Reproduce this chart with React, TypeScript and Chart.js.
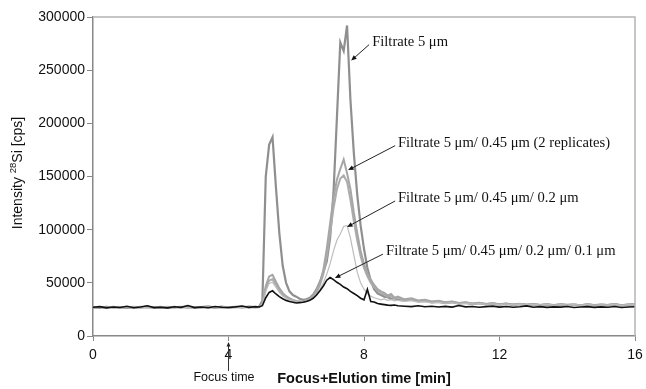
import React, { useEffect, useRef } from "react";
import { Chart, registerables } from "chart.js";

Chart.register(...registerables);

const times = [
  0, 0.2, 0.4, 0.6, 0.8, 1, 1.2, 1.4, 1.6, 1.8, 2, 2.2, 2.4, 2.6, 2.8, 3, 3.2, 3.4, 3.6, 3.8, 4, 4.2, 4.4, 4.6, 4.8,
  4.9, 5, 5.1, 5.2, 5.3, 5.4, 5.5, 5.6, 5.7, 5.8, 5.9, 6, 6.1, 6.2, 6.3, 6.4, 6.5, 6.6, 6.7, 6.8, 6.9, 7, 7.1, 7.2,
  7.3, 7.4, 7.5, 7.6, 7.7, 7.8, 7.9, 8, 8.1, 8.2, 8.3, 8.4, 8.5, 8.6, 8.7, 8.8, 8.9, 9,
  9.2, 9.4, 9.6, 9.8, 10, 10.2, 10.4, 10.6, 10.8, 11, 11.2, 11.4, 11.6, 11.8, 12, 12.2, 12.4, 12.6, 12.8, 13, 13.2,
  13.4, 13.6, 13.8, 14, 14.2, 14.4, 14.6, 14.8, 15, 15.2, 15.4, 15.6, 15.8, 16,
];

const filtrate5 = [
  27000, 26500, 27500, 26800, 27200, 26400, 27100, 26900, 27600, 26700, 27000, 26500, 27300, 26800, 27400, 26600, 27100, 27800, 26700, 27200, 26900, 27500, 26800, 27600, 27100,
  27500, 33000, 150000, 180000, 187000, 140000, 97000, 66000, 50000, 42000, 38500, 37000, 35000, 34000, 34500, 36000, 39000, 44000, 51000, 60000, 70000, 92000, 135000, 205000,
  276000, 268000, 292000, 222000, 172000, 133000, 104000, 82000, 64000, 52000, 44000, 40000, 38500, 37000, 36500, 35000, 35500, 34000,
  33500, 34500, 32500, 33000, 31500, 32000, 31000, 31800, 30500, 31200, 30000, 30800, 29800, 30500, 29500, 30200, 29300, 30000, 29200, 29800, 29000,
  29600, 28900, 29500, 29000, 29400, 28800, 29600, 28900, 29300, 29000, 29700, 28800, 29400, 29800,
];

const filtrate045a = [
  26800, 27300, 26600, 27500, 26900, 27200, 26500, 27400, 26800, 27100, 27600, 26700, 27000, 27500, 26600, 27300, 26900, 27200, 26700, 27700, 26800, 27100, 27400, 26900, 27300,
  27200, 31000, 47000, 56000, 57500, 51000, 45000, 40500, 37500, 35500, 34000, 33000, 32500, 32800, 33500, 35000, 38000, 43000, 50000, 62000, 82000, 106000, 130000, 147000,
  157000, 166000, 153000, 138000, 116000, 97000, 80000, 68000, 59000, 53000, 48000, 44000, 42000, 40500, 38000, 39500, 36000, 37000,
  34500, 35500, 33500, 34000, 32500, 33200, 31800, 32500, 31000, 31800, 30500, 31300, 30200, 30900, 29800, 30600, 29600, 30300, 29400, 30100, 29200,
  29900, 29100, 29800, 29300, 29700, 29000, 29900, 29100, 29600, 29200, 30000, 29000, 29700, 30200,
];

const filtrate045b = [
  27100, 26600, 27400, 26900, 27200, 26700, 27500, 26800, 27000, 27300, 26600, 27400, 26900, 27200, 27600, 26800, 27300, 26700, 27100, 27400, 26600, 27200, 26900, 27500, 26800,
  27000, 30000, 44000, 52000, 53500, 48000, 42500, 38500, 36000, 34500, 33500, 32500, 32000, 32300, 33000, 34500, 37000, 41000, 48000, 58000, 75000, 97000, 120000, 138000,
  148000, 151000, 145000, 128000, 108000, 90000, 75000, 64000, 56000, 50000, 46000, 42500, 40000, 39000, 37000, 37800, 35000, 35800,
  33800, 34800, 33000, 33400, 32000, 32700, 31400, 32100, 30800, 31500, 30300, 31000, 30000, 30700, 29600, 30400, 29500, 30100, 29300, 29900, 29100,
  29800, 29000, 29700, 29200, 29600, 28900, 29800, 29000, 29500, 29100, 29900, 28900, 29600, 30000,
];

const filtrate02 = [
  26900, 27400, 26700, 27100, 27500, 26800, 27200, 26600, 27300, 27000, 26800, 27500, 26700, 27200, 26900, 27400, 26600, 27300, 27000, 26800, 27500, 26900, 27200, 26700, 27400,
  27100, 29500, 42000, 49500, 50500, 46000, 41000, 37500, 35500, 34000, 33000, 32000, 31800, 32000, 32800, 34000, 36000, 39000, 44000, 50000, 58000, 68000, 80000, 90000,
  96000, 103000, 104000, 92000, 76000, 60000, 50000, 44000, 40000, 37500, 36000, 35000, 34000, 34800, 33500, 34200, 33000, 33600,
  32500, 33200, 31800, 32400, 31200, 31800, 30600, 31300, 30200, 30900, 29900, 30500, 29700, 30300, 29500, 30100, 29300, 29900, 29200, 29800, 29000,
  29700, 28900, 29600, 29100, 29500, 28800, 29700, 28900, 29400, 29000, 29800, 28800, 29500, 29900,
];

const filtrate01 = [
  27000, 27600, 26500, 27300, 26800, 27900, 26600, 27200, 28400, 26700, 27100, 26500, 27500, 26900, 28600, 26700, 27200, 26600, 27800, 27000, 26800, 27400, 28200, 26900, 27600,
  27300, 28500, 36000, 41000, 42500, 39500, 37000, 35000, 33500, 32500, 31800, 31000, 31400, 31800, 32500, 33500, 35500, 38500, 42500, 47000, 52500, 55000, 53000, 50500,
  48500, 46000, 44500, 42000, 40000, 38000, 35500, 34000, 44000, 32500, 32000, 30500, 30000, 29500, 29000, 28800, 29200, 28500,
  28000, 27600, 28400, 27500, 28000, 27300, 27900, 27200, 28600, 27400, 27800, 27100, 27600, 28100, 27200, 27700, 27000, 27500, 28300, 27100, 27600,
  26900, 27400, 27200, 27800, 26800, 27300, 27600, 26900, 27400, 27100, 27700, 26800, 27300, 27500,
];

const seriesLabels = [
  "Filtrate 5 μm/ 0.45 μm/ 0.2 μm/ 0.1 μm",
  "Filtrate 5 μm/ 0.45 μm/ 0.2 μm",
  "Filtrate 5 μm/ 0.45 μm (2 replicates)",
  "Filtrate 5 μm/ 0.45 μm (2 replicates)",
  "Filtrate 5 μm",
];

const xTicks = [0, 4, 8, 12, 16];
const yMax = 300000;
const yStep = 50000;

// annotation: label text, text anchor (x,y) and arrow from/to, in data units
const annotations = [
  { text: "Filtrate 5 μm", tx: 8.24, ty: 276500, ax: 8.15, ay: 274000, bx: 7.62, by: 259000 },
  { text: "Filtrate 5 μm/ 0.45 μm (2 replicates)", tx: 9.0, ty: 181500, ax: 8.92, ay: 179000, bx: 7.53, by: 156000 },
  { text: "Filtrate 5 μm/ 0.45 μm/ 0.2 μm", tx: 9.0, ty: 129800, ax: 8.92, ay: 127000, bx: 7.5, by: 102500 },
  { text: "Filtrate 5 μm/ 0.45 μm/ 0.2 μm/ 0.1 μm", tx: 8.65, ty: 79900, ax: 8.56, ay: 77000, bx: 7.14, by: 54500 },
];

function arrow(ctx: CanvasRenderingContext2D, x1: number, y1: number, x2: number, y2: number, head = 6) {
  const ang = Math.atan2(y2 - y1, x2 - x1);
  ctx.beginPath();
  ctx.moveTo(x1, y1);
  ctx.lineTo(x2 - Math.cos(ang) * head * 0.8, y2 - Math.sin(ang) * head * 0.8);
  ctx.stroke();
  ctx.beginPath();
  ctx.moveTo(x2, y2);
  ctx.lineTo(x2 - head * Math.cos(ang - 0.4), y2 - head * Math.sin(ang - 0.4));
  ctx.lineTo(x2 - head * Math.cos(ang + 0.4), y2 - head * Math.sin(ang + 0.4));
  ctx.closePath();
  ctx.fill();
}

const decorPlugin = {
  id: "decor",
  afterDatasetsDraw(chart: any) {
    const ctx: CanvasRenderingContext2D = chart.ctx;
    const xs = chart.scales.x;
    const ys = chart.scales.y;
    const ca = chart.chartArea;
    ctx.save();
    // top and right frame
    ctx.strokeStyle = "#b4b4b4";
    ctx.lineWidth = 1.5;
    ctx.beginPath();
    ctx.moveTo(ca.left, ca.top);
    ctx.lineTo(ca.right, ca.top);
    ctx.lineTo(ca.right, ca.bottom);
    ctx.stroke();

    // annotations
    ctx.fillStyle = "#111";
    ctx.strokeStyle = "#222";
    ctx.lineWidth = 1;
    ctx.font = '14.6px "Liberation Serif", "Times New Roman", serif';
    ctx.textBaseline = "middle";
    ctx.textAlign = "left";
    for (const a of annotations) {
      ctx.fillText(a.text, xs.getPixelForValue(a.tx), ys.getPixelForValue(a.ty));
      arrow(ctx, xs.getPixelForValue(a.ax), ys.getPixelForValue(a.ay), xs.getPixelForValue(a.bx), ys.getPixelForValue(a.by));
    }

    // focus time
    const fx = xs.getPixelForValue(4);
    ctx.strokeStyle = "#333";
    ctx.fillStyle = "#222";
    arrow(ctx, fx, 371, fx, 342, 5);
    ctx.font = '12.5px "Liberation Sans", Arial, sans-serif';
    ctx.textAlign = "center";
    ctx.fillStyle = "#111";
    ctx.fillText("Focus time", 224, 378);

    // x title
    ctx.font = 'bold 14.5px "Liberation Sans", Arial, sans-serif';
    ctx.fillText("Focus+Elution time [min]", 364, 379);

    // y title with superscript
    ctx.translate(18, 173);
    ctx.rotate(-Math.PI / 2);
    const big = '14px "Liberation Sans", Arial, sans-serif';
    const small = '9.5px "Liberation Sans", Arial, sans-serif';
    ctx.font = big;
    const p1 = "Intensity ";
    const p3 = "Si [cps]";
    const w1 = ctx.measureText(p1).width;
    const w3 = ctx.measureText(p3).width;
    ctx.font = small;
    const w2 = ctx.measureText("28").width;
    let x0 = -(w1 + w2 + w3) / 2;
    ctx.textAlign = "left";
    ctx.font = big;
    ctx.fillText(p1, x0, 0);
    ctx.font = small;
    ctx.fillText("28", x0 + w1, -5);
    ctx.font = big;
    ctx.fillText(p3, x0 + w1 + w2, 0);
    ctx.restore();
  },
};

export default function App() {
  const ref = useRef<HTMLCanvasElement>(null);
  useEffect(() => {
    document.body.style.margin = "0";
    const mk = (vals: number[]) => times.map((t, i) => ({ x: t, y: vals[i] }));
    const chart = new Chart(ref.current as HTMLCanvasElement, {
      type: "line",
      data: {
        datasets: [
          { label: seriesLabels[0], data: mk(filtrate01), borderColor: "#111111", borderWidth: 1.6 },
          { label: seriesLabels[1], data: mk(filtrate02), borderColor: "#bdbdbd", borderWidth: 1.2 },
          { label: seriesLabels[2], data: mk(filtrate045a), borderColor: "#a6a6a6", borderWidth: 2 },
          { label: seriesLabels[3], data: mk(filtrate045b), borderColor: "#acacac", borderWidth: 2 },
          { label: seriesLabels[4], data: mk(filtrate5), borderColor: "#8f8f8f", borderWidth: 2.2 },
        ],
      },
      options: {
        animation: false,
        responsive: false,
        maintainAspectRatio: false,
        parsing: true,
        elements: { point: { radius: 0 }, line: { tension: 0, fill: false } },
        layout: { padding: { left: 0, top: 17, right: 11, bottom: 0 } },
        plugins: { legend: { display: false }, tooltip: { enabled: false } },
        scales: {
          x: {
            type: "linear",
            min: 0,
            max: 16,
            afterBuildTicks: (s: any) => {
              s.ticks = xTicks.map((v) => ({ value: v }));
            },
            afterFit: (s: any) => {
              s.height = 53;
              s.paddingLeft = 0;
              s.paddingRight = 0;
            },
            ticks: {
              color: "#111",
              font: { family: '"Liberation Sans", Arial, sans-serif', size: 14 },
              padding: 6,
              maxRotation: 0,
            },
            grid: { drawOnChartArea: false, drawTicks: true, tickLength: 5, color: "#888" },
            border: { color: "#888", width: 1.5 },
          },
          y: {
            type: "linear",
            min: 0,
            max: yMax,
            ticks: {
              stepSize: yStep,
              color: "#111",
              font: { family: '"Liberation Sans", Arial, sans-serif', size: 14 },
              padding: 2,
              callback: (v: any) => String(v),
            },
            afterFit: (s: any) => {
              s.width = 93;
              s.paddingTop = 0;
              s.paddingBottom = 0;
            },
            grid: { drawOnChartArea: false, drawTicks: true, tickLength: 6, color: "#888" },
            border: { color: "#888", width: 1.5 },
          },
        },
      },
      plugins: [decorPlugin],
    });
    return () => chart.destroy();
  }, []);
  return (
    <div style={{ width: 646, height: 389 }}>
      <canvas ref={ref} width={646} height={389} style={{ display: "block" }} />
    </div>
  );
}
